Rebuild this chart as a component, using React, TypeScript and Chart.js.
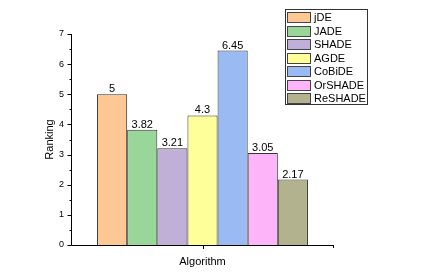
import React, { useEffect, useRef } from "react";
import { Chart, registerables } from "chart.js";

Chart.register(...registerables);

const categories = ["Algorithm"];
const seriesNames = ["jDE", "JADE", "SHADE", "AGDE", "CoBiDE", "OrSHADE", "ReSHADE"];
const seriesValues = [5, 3.82, 3.21, 4.3, 6.45, 3.05, 2.17];
const seriesColors = ["#FEC894", "#99D699", "#C0AFD6", "#FFFF99", "#99BAF3", "#FEB4F8", "#B2B38E"];
const yTicks = [0, 1, 2, 3, 4, 5, 6, 7];

const FONT = "'Liberation Sans', Arial, sans-serif";

const decorPlugin = {
  id: "decor",
  afterDraw(chart: any) {
    const ctx = chart.ctx;
    const x = chart.scales.x;
    const y = chart.scales.y;
    const area = chart.chartArea;
    ctx.save();
    // axes lines
    ctx.strokeStyle = "#000";
    ctx.lineWidth = 1;
    ctx.beginPath();
    ctx.moveTo(Math.round(area.left) + 0.5, area.top);
    ctx.lineTo(Math.round(area.left) + 0.5, Math.round(area.bottom) + 0.5);
    ctx.lineTo(area.right, Math.round(area.bottom) + 0.5);
    ctx.stroke();
    // y ticks major/minor
    for (let v = 0; v <= 7.001; v += 0.5) {
      const py = Math.round(y.getPixelForValue(v)) + 0.5;
      const len = Math.abs(v - Math.round(v)) < 1e-6 ? 4 : 2;
      ctx.beginPath();
      ctx.moveTo(Math.round(area.left) + 0.5 - len, py);
      ctx.lineTo(Math.round(area.left) + 0.5, py);
      ctx.stroke();
    }
    // x tick at category center and end tick
    const cx = Math.round(x.getPixelForValue(0)) + 0.5;
    ctx.beginPath();
    ctx.moveTo(cx, Math.round(area.bottom) + 0.5);
    ctx.lineTo(cx, Math.round(area.bottom) + 4);
    ctx.moveTo(Math.round(area.right) - 0.5, Math.round(area.bottom) + 0.5);
    ctx.lineTo(Math.round(area.right) - 0.5, Math.round(area.bottom) + 3);
    ctx.stroke();
    // y title
    ctx.fillStyle = "#000";
    ctx.font = `11px ${FONT}`;
    ctx.textAlign = "center";
    ctx.textBaseline = "middle";
    ctx.save();
    ctx.translate(50, (area.top + area.bottom) / 2);
    ctx.rotate(-Math.PI / 2);
    ctx.fillText("Ranking", 0, 0);
    ctx.restore();
    // value labels
    ctx.font = `11px ${FONT}`;
    ctx.textAlign = "center";
    ctx.textBaseline = "alphabetic";
    chart.data.datasets.forEach((ds: any, i: number) => {
      const meta = chart.getDatasetMeta(i);
      meta.data.forEach((bar: any, j: number) => {
        ctx.fillText(String(ds.data[j]), bar.x, bar.y - 2);
      });
    });
    // legend
    const lx = 285, ly = 9, lw = 82, lh = 95;
    ctx.fillStyle = "#fff";
    ctx.fillRect(lx, ly, lw, lh);
    ctx.strokeStyle = "#333";
    ctx.strokeRect(lx + 0.5, ly + 0.5, lw, lh);
    chart.data.datasets.forEach((ds: any, i: number) => {
      const ry = 12 + i * 13.55;
      ctx.fillStyle = ds.backgroundColor;
      ctx.fillRect(287.5, Math.round(ry) + 0.5, 23, 10);
      ctx.strokeStyle = "#444";
      ctx.strokeRect(287.5, Math.round(ry) + 0.5, 23, 10);
      ctx.fillStyle = "#000";
      ctx.textAlign = "left";
      ctx.textBaseline = "middle";
      ctx.fillText(ds.label, 314, Math.round(ry) + 6);
    });
    ctx.restore();
  },
};

export default function App() {
  const ref = useRef<HTMLCanvasElement>(null);
  useEffect(() => {
    const chart = new Chart(ref.current!, {
      type: "bar",
      data: {
        labels: categories,
        datasets: seriesNames.map((name, i) => ({
          label: name,
          data: [seriesValues[i]],
          backgroundColor: seriesColors[i],
          borderColor: "#333333",
          borderWidth: 1,
          categoryPercentage: 0.802,
          barPercentage: 1.0,
        })),
      },
      options: {
        animation: false,
        responsive: false,
        maintainAspectRatio: false,
        layout: { padding: { left: 0, top: 34, right: 95, bottom: 0 } },
        plugins: { legend: { display: false }, tooltip: { enabled: false } },
        scales: {
          x: {
            grid: { display: false, drawTicks: false },
            border: { display: false },
            ticks: { color: "#000", font: { family: FONT, size: 11 }, padding: 10 },
            afterFit: (s: any) => { s.height = 28; },
          },
          y: {
            min: 0,
            max: 7,
            afterBuildTicks: (s: any) => { s.ticks = yTicks.map((v) => ({ value: v })); },
            grid: { display: false, drawTicks: false },
            border: { display: false },
            ticks: { color: "#000", font: { family: FONT, size: 9 }, padding: 7 },
            afterFit: (s: any) => { s.width = 71; },
          },
        },
      },
      plugins: [decorPlugin],
    } as any);
    return () => chart.destroy();
  }, []);
  return (
    <div style={{ position: "absolute", left: 0, top: 0, width: 429, height: 273, background: "#fff" }}>
      <canvas ref={ref} width={429} height={273} style={{ width: 429, height: 273 }} />
    </div>
  );
}
